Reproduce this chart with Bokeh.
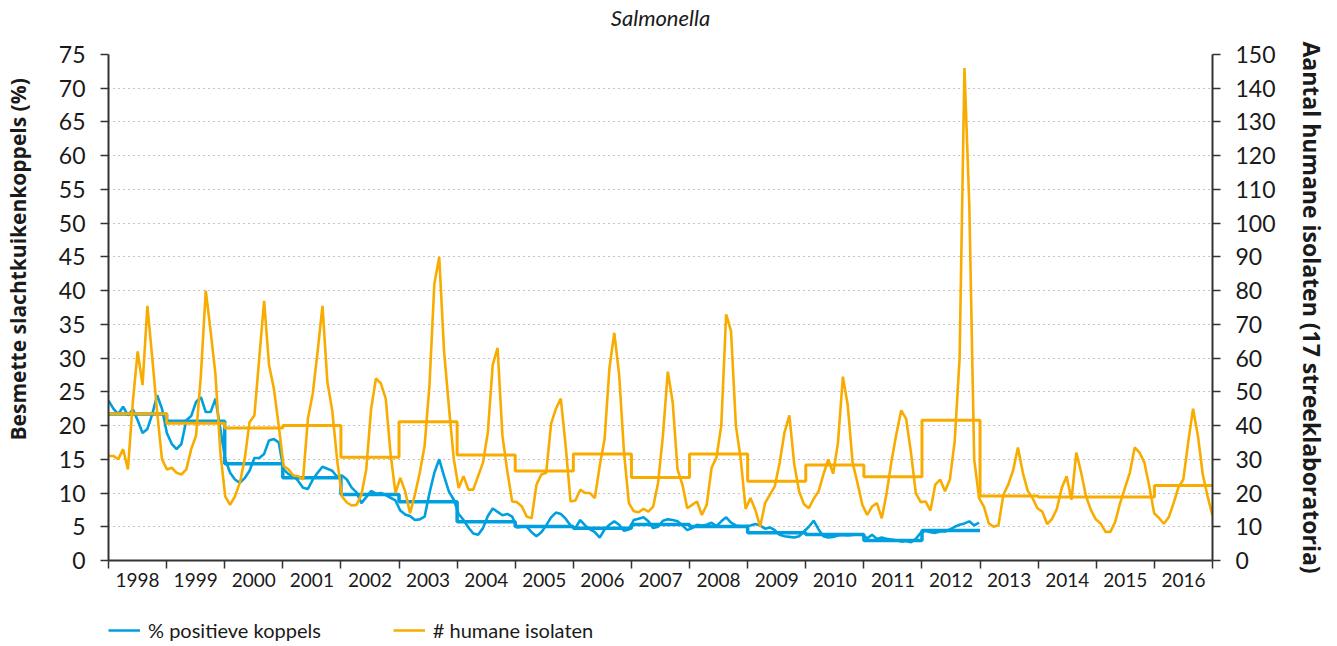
from bokeh.plotting import figure
from bokeh.models import (Range1d, LinearAxis, FixedTicker, CustomJSTickFormatter,
                          Legend, LegendItem, Label, Title)
from bokeh.layouts import column
from bokeh.embed import file_html
from bokeh.resources import INLINE

# ---------------- data ----------------
years = list(range(1998, 2017))
year_labels = [str(y) for y in years]

# % positive broiler flocks, monthly 1998-2012
pct_monthly = [
    23.7, 22.5, 21.7, 22.8, 21.5, 22.4, 20.8, 18.9, 19.5, 21.7, 24.5, 22.5,   # 1998
    18.9, 17.3, 16.5, 17.3, 20.8, 21.4, 23.5, 24.2, 22.0, 22.0, 24.0, 19.5,   # 1999
    15.0, 13.0, 12.0, 11.5, 12.2, 13.3, 15.2, 15.2, 15.8, 17.8, 18.0, 17.5,   # 2000
    13.5, 12.8, 12.6, 11.8, 10.8, 10.6, 12.0, 13.0, 13.9, 13.6, 13.3, 12.4,   # 2001
    12.6, 12.0, 10.8, 10.1, 8.5, 9.4, 10.3, 9.9, 10.0, 9.7, 9.3, 8.9,         # 2002
    7.4, 6.8, 6.6, 6.0, 6.1, 6.5, 10.0, 13.0, 15.0, 12.5, 10.2, 9.0,          # 2003
    6.9, 6.0, 4.9, 4.0, 3.8, 4.8, 6.6, 7.7, 7.2, 6.7, 6.9, 6.5,               # 2004
    4.9, 5.0, 5.0, 4.2, 3.6, 4.2, 5.2, 6.4, 7.1, 6.9, 6.2, 5.2,               # 2005
    4.8, 6.0, 5.2, 4.6, 4.2, 3.4, 4.6, 5.3, 5.8, 5.3, 4.4, 4.6,               # 2006
    6.0, 6.2, 6.4, 5.8, 4.8, 5.0, 5.9, 6.1, 6.0, 5.8, 5.2, 4.5,               # 2007
    4.8, 5.3, 5.2, 5.3, 5.6, 5.1, 5.8, 6.4, 5.6, 5.2, 5.1, 5.1,               # 2008
    5.2, 5.4, 5.2, 4.7, 4.9, 4.5, 3.8, 3.6, 3.5, 3.4, 3.6, 4.3,               # 2009
    5.0, 5.9, 4.6, 3.6, 3.4, 3.5, 3.7, 3.8, 3.7, 3.8, 3.9, 3.8,               # 2010
    3.3, 3.8, 3.2, 3.4, 3.2, 3.1, 3.0, 2.8, 2.9, 2.7, 3.2, 4.1,               # 2011
    4.4, 4.2, 4.1, 4.3, 4.3, 4.6, 5.0, 5.3, 5.5, 5.8, 5.2, 5.6,               # 2012
]

# number of human isolates, monthly 1998-2016
iso_monthly = [
    31, 31, 30, 33, 27, 47, 62, 52, 75.5, 60, 44, 30,          # 1998
    27, 27.5, 26, 25.5, 27, 33, 37, 55, 80, 68, 55, 32,        # 1999
    19, 16.5, 19, 23, 30, 41, 43, 60, 77, 58, 51, 40,          # 2000
    28, 27, 25.2, 25, 24, 42, 49.5, 62, 75.5, 53, 44.5, 30,    # 2001
    19, 17.2, 16.3, 16.5, 19.5, 27, 45, 54, 52.5, 48, 31.6, 20,  # 2002
    24.5, 20.5, 14, 19.5, 26, 34, 52, 82, 90, 62, 45.5, 30,    # 2003
    21.5, 25, 21, 21, 25, 29, 38, 58, 63, 37, 26.5, 17.5,      # 2004
    17.3, 16, 13, 12.5, 22.5, 25.5, 26, 40.5, 45, 48, 34, 17.5,  # 2005
    17.8, 21, 20, 20, 18.5, 28, 36, 57, 67.5, 55, 32, 17,      # 2006
    14.6, 14.3, 15.3, 14.5, 16, 23, 37, 56, 47, 27, 22.5, 15.5,  # 2007
    16.5, 17.5, 13.5, 16.5, 27.5, 30.5, 40, 73, 68, 40, 30, 15.3,  # 2008
    18.5, 15, 10, 17, 19.5, 22, 29, 38, 43, 28.5, 20.5, 16.7,  # 2009
    15.5, 18.3, 20.5, 25.5, 30, 25.7, 35, 54.5, 46, 29, 23, 16.5,  # 2010
    13.5, 16, 17, 12.5, 20, 29.5, 37.5, 44.5, 42, 32, 20, 17.3,  # 2011
    17.5, 14.8, 22.5, 24, 20.5, 24, 35.5, 60, 146, 105, 30, 18.5,  # 2012
    16, 11, 10, 10.5, 19.5, 22.5, 26.7, 33.5, 26, 20.7, 18.5, 15.5,  # 2013
    14.5, 10.8, 12.3, 15.3, 21.5, 25, 18, 32, 26, 19, 15, 12.2,  # 2014
    11, 8.5, 8.5, 11.5, 17, 21.5, 26, 33.5, 32, 29, 22, 14,    # 2015
    12.6, 10.9, 12.8, 17, 21.7, 24, 35, 45, 37, 25.5, 19, 13.3,  # 2016
]

# yearly averages (step lines)
pct_annual = [21.7, 20.65, 14.33, 12.25, 9.78, 8.69, 5.73, 5.04, 4.79, 5.34,
              5.04, 4.1, 3.85, 2.96, 4.45]
iso_annual = [43.5, 40.7, 39.3, 40.0, 30.6, 41.1, 31.3, 26.5, 31.6, 24.6,
              31.6, 23.5, 28.3, 24.8, 41.6, 19.1, 18.8, 18.8, 22.2]

series_labels = ["% positieve koppels", "# humane isolaten"]
chart_title = "Salmonella"
left_title = "Besmette slachtkuikenkoppels (%)"
right_title = "Aantal humane isolaten (17 streeklaboratoria)"

BLUE = "#009FE0"
ORANGE = "#F9AC00"
AXIS = "#333333"
TXT = "#1a1a1a"
FONT = "Lato"
TFONT = "Open Sans"
W = 1330

# month positions spread over the axis span
n = len(iso_monthly)
span = len(years)
x_iso = [years[0] + i * span / (n - 1) for i in range(n)]
x_pct = x_iso[:len(pct_monthly)]


def step_xy(vals):
    xs, ys = [], []
    for k, v in enumerate(vals):
        xs += [years[0] + k, years[0] + k + 1]
        ys += [v, v]
    return xs, ys


sx_pct, sy_pct = step_xy(pct_annual)
sx_iso, sy_iso = step_xy(iso_annual)


def strip(h):
    f = figure(width=W, height=h, output_backend="svg", toolbar_location=None,
               x_range=Range1d(0, 1), y_range=Range1d(0, 1),
               x_axis_location=None, y_axis_location=None, outline_line_color=None,
               min_border_left=0, min_border_right=0, min_border_top=0, min_border_bottom=0)
    f.grid.visible = False
    return f


# ---------------- title strip ----------------
tt = strip(34)
tt.add_layout(Label(x=0.5, y=0.5, text=chart_title, text_align="center",
                    text_baseline="middle", text_font=FONT,
                    text_font_style="italic", text_font_size="22px", text_color=TXT))

# ---------------- main figure ----------------
p = figure(width=W, height=562, output_backend="svg", toolbar_location=None,
           x_range=Range1d(1998, 2017), y_range=Range1d(0, 75),
           min_border_left=106, min_border_right=W - 1217, min_border_top=20,
           min_border_bottom=36, outline_line_color=None)
p.extra_y_ranges = {"iso": Range1d(0, 150)}
p.title.text = ""

# glyphs
p.line(sx_pct, sy_pct, color=BLUE, line_width=3.5)
p.line(x_pct, pct_monthly, color=BLUE, line_width=2.6)
p.line(sx_iso, sy_iso, color=ORANGE, line_width=3, y_range_name="iso")
p.line(x_iso, iso_monthly, color=ORANGE, line_width=2.6, y_range_name="iso")

# grid
p.xgrid.visible = False
p.ygrid.grid_line_color = "#8a8a8a"
p.ygrid.grid_line_dash = "1 4"
p.ygrid.grid_line_width = 1.2

# x axis
xax = p.xaxis[0]
xax.ticker = FixedTicker(ticks=[y + 0.5 for y in years], minor_ticks=years + [years[-1] + 1])
xax.formatter = CustomJSTickFormatter(args=dict(labels=year_labels, start=years[0]),
                                      code="return labels[Math.floor(tick) - start];")
xax.major_tick_line_color = None
xax.major_tick_out = 0
xax.major_tick_in = 0
xax.minor_tick_out = 8
xax.minor_tick_in = 0
xax.minor_tick_line_color = AXIS
xax.minor_tick_line_width = 1.5
xax.axis_line_color = AXIS
xax.axis_line_width = 2
xax.major_label_standoff = 4
xax.major_label_text_font = FONT
xax.major_label_text_font_size = "19px"
xax.major_label_text_color = TXT

# left axis
yax = p.yaxis[0]
yax.ticker = FixedTicker(ticks=list(range(0, 80, 5)))

# right axis
rax = LinearAxis(y_range_name="iso", ticker=FixedTicker(ticks=list(range(0, 160, 10))),
                 axis_label=right_title)
p.add_layout(rax, "right")

for ax in (yax, rax):
    ax.major_tick_out = 8
    ax.major_tick_in = 0
    ax.minor_tick_line_color = None
    ax.major_tick_line_color = AXIS
    ax.major_tick_line_width = 1.5
    ax.axis_line_color = AXIS
    ax.axis_line_width = 2
    ax.major_label_standoff = 15
    ax.major_label_text_font = FONT
    ax.major_label_text_font_size = "23px"
    ax.major_label_text_color = TXT

rax.axis_label_text_font = TFONT
rax.axis_label_text_font_style = "bold"
rax.axis_label_text_font_size = "23px"
rax.axis_label_text_color = TXT
rax.axis_label_standoff = 17

# left axis title: spacer then title, anchored at its start and raised like the original
p.add_layout(Title(text="\u00a0", text_font_size="1px", standoff=20), "left")
p.add_layout(Title(text=left_title, align="left", offset=120, standoff=2,
                   text_font=TFONT, text_font_style="bold", text_font_size="21px",
                   text_color=TXT), "left")

# ---------------- legend strip ----------------
lg = strip(50)
k_blue = lg.line([float("nan")], [float("nan")], color=BLUE, line_width=2.6)
k_orange = lg.line([float("nan")], [float("nan")], color=ORANGE, line_width=2.6)
legend = Legend(items=[LegendItem(label=series_labels[0], renderers=[k_blue]),
                       LegendItem(label=series_labels[1], renderers=[k_orange])],
                location=(0, 4), orientation="horizontal",
                border_line_color=None, background_fill_alpha=0,
                padding=0, margin=0, spacing=72, glyph_width=32, glyph_height=20,
                label_height=20, label_standoff=8,
                label_text_font=FONT, label_text_font_size="20px",
                label_text_color=TXT)
lg.add_layout(legend, "center")

open("out.html", "w").write(file_html(column(tt, p, lg, spacing=0), INLINE))
